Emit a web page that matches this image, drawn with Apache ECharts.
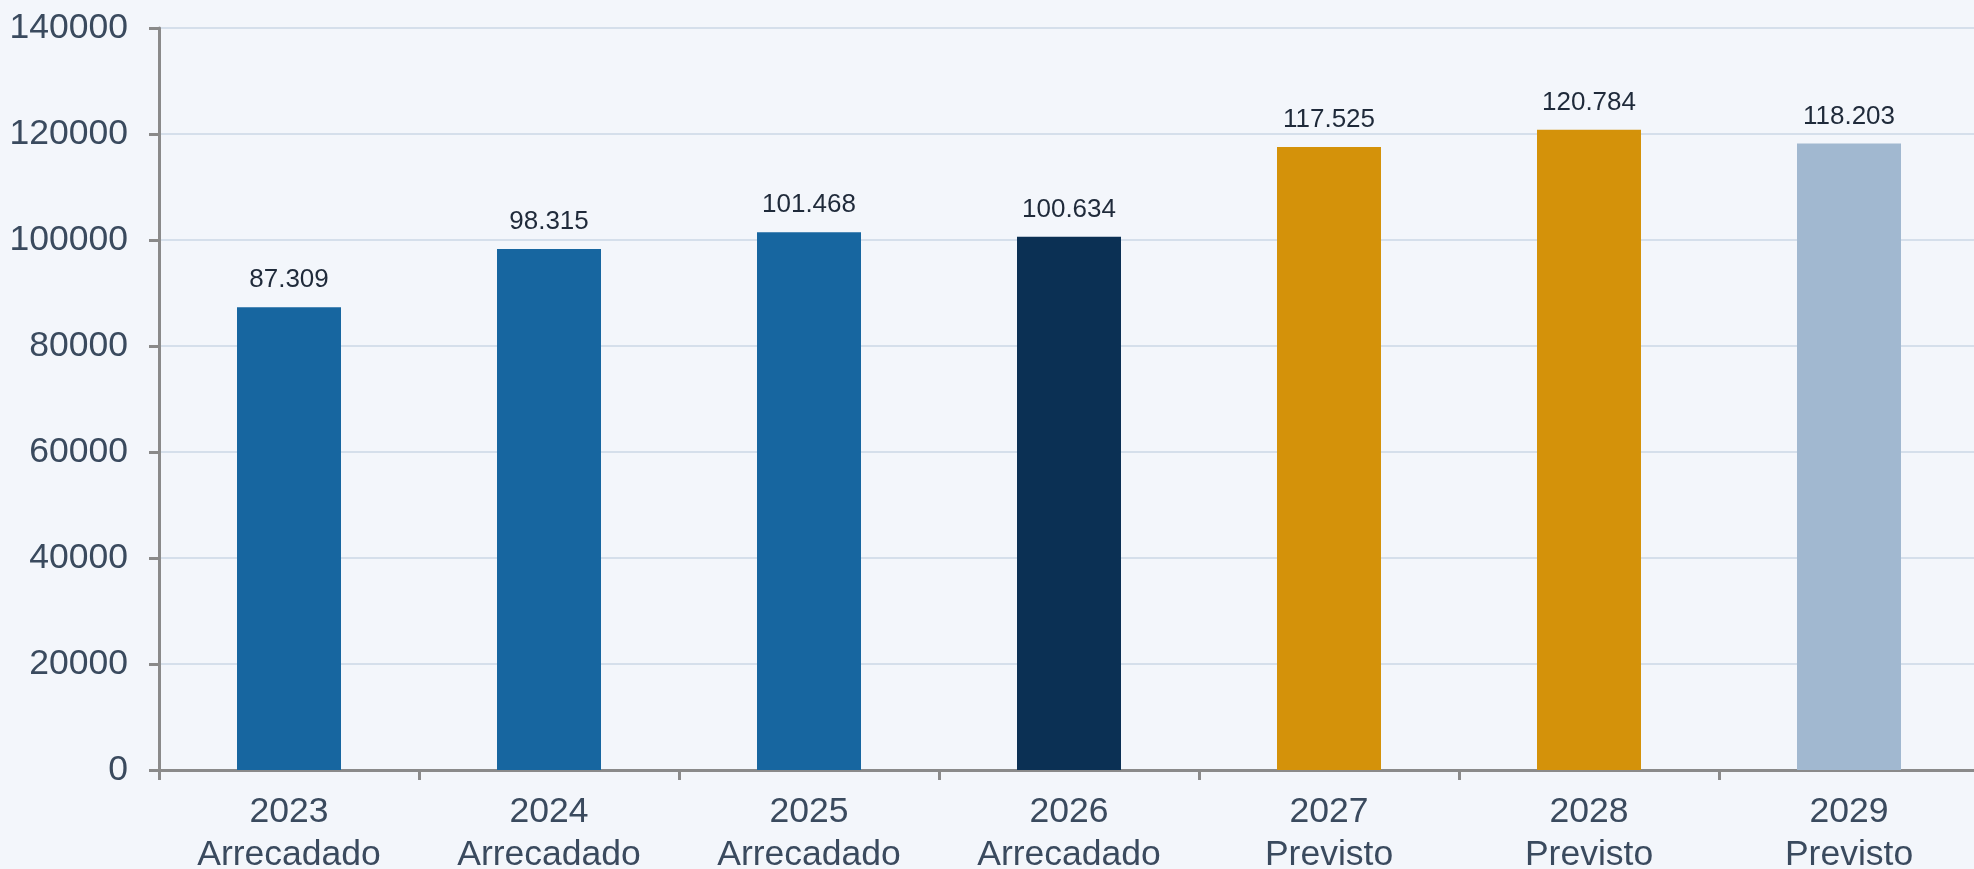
<!DOCTYPE html>
<html>
<head>
<meta charset="utf-8">
<script src="https://cdn.jsdelivr.net/npm/echarts@6/dist/echarts.min.js"></script>
<style>
html,body{margin:0;padding:0;background:#f3f6fb;}
#chart{width:1974px;height:869px;}
</style>
</head>
<body>
<div id="chart"></div>
<script>
const years = ['2023', '2024', '2025', '2026', '2027', '2028', '2029'];
const kinds = ['Arrecadado', 'Arrecadado', 'Arrecadado', 'Arrecadado', 'Previsto', 'Previsto', 'Previsto'];
const values = [87309, 98315, 101468, 100634, 117525, 120784, 118203];
const yTicks = [0, 20000, 40000, 60000, 80000, 100000, 120000, 140000];

const barColors = ['#1766a0', '#1766a0', '#1766a0', '#0b3054', '#d4920a', '#d4920a', '#a1b8d0'];

function fmt(v) {
  return String(v).replace(/\B(?=(\d{3})+(?!\d))/g, '.');
}

const chart = echarts.init(document.getElementById('chart'));
chart.setOption({
  backgroundColor: '#f3f6fb',
  animation: false,
  grid: { left: 159, top: 28, bottom: 99, width: 1820, containLabel: false, outerBoundsMode: 'none' },
  xAxis: {
    type: 'category',
    data: years.map((y, i) => y + '\n' + kinds[i]),
    axisLine: { lineStyle: { color: '#8a8a8a', width: 3 } },
    axisTick: { show: true, length: 10, lineStyle: { color: '#8a8a8a', width: 3 } },
    axisLabel: {
      color: '#3a4a5e', fontSize: 35.5, lineHeight: 43, margin: 21,
      fontFamily: 'Liberation Sans, Arial, sans-serif', interval: 0
    }
  },
  yAxis: {
    type: 'value',
    min: yTicks[0], max: yTicks[yTicks.length - 1], interval: 20000,
    axisLine: { show: true, lineStyle: { color: '#8a8a8a', width: 3 } },
    axisTick: { show: true, length: 10, lineStyle: { color: '#8a8a8a', width: 3 } },
    splitLine: { lineStyle: { color: '#d5dfeb', width: 2 } },
    axisLabel: {
      color: '#3a4a5e', fontSize: 35.5, margin: 31,
      fontFamily: 'Liberation Sans, Arial, sans-serif',
      formatter: v => String(v)
    }
  },
  series: [{
    type: 'bar',
    barWidth: 104,
    data: values.map((v, i) => ({ value: v, itemStyle: { color: barColors[i] } })),
    label: {
      show: true, position: 'top', distance: 14,
      color: '#1f2a3a', fontSize: 26,
      fontFamily: 'Liberation Sans, Arial, sans-serif',
      formatter: p => fmt(p.value)
    }
  }]
});
</script>
</body>
</html>
